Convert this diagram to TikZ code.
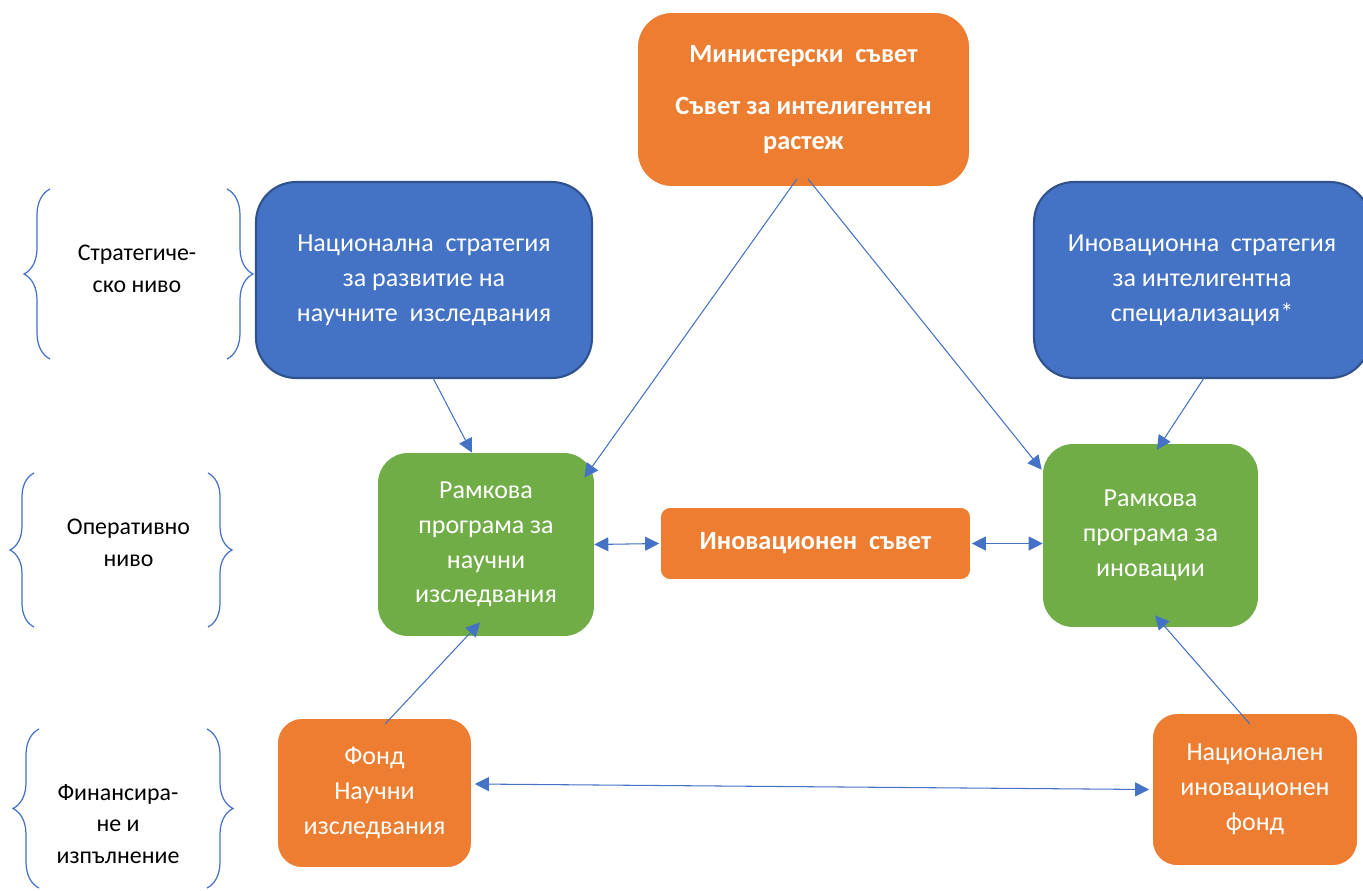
\documentclass[tikz,border=0pt]{standalone}
\usepackage{fontspec}
\setmainfont{Carlito}
\usetikzlibrary{arrows.meta,calc,decorations.pathreplacing}
\definecolor{boxorange}{HTML}{ED7D31}
\definecolor{boxblue}{HTML}{4472C4}
\definecolor{boxblueline}{HTML}{2F528F}
\definecolor{boxgreen}{HTML}{70AD47}
\definecolor{linkblue}{HTML}{4472C4}
\tikzset{
  box/.style={rectangle, text=white, align=center, inner sep=0pt, font=\fontsize{14.8}{19.8}\selectfont},
  boldbox/.style={font=\bfseries\fontsize{15}{19.8}\selectfont},
  orangebox/.style={box, fill=boxorange, draw=white, line width=1pt},
  bluebox/.style={box, fill=boxblue, draw=boxblueline, line width=1.2pt, rounded corners=0.8cm, minimum width=6.72cm, minimum height=3.92cm},
  greenbox/.style={box, fill=boxgreen, rounded corners=0.6cm, minimum height=3.66cm},
  link/.style={draw=linkblue, line width=0.6pt, -{Triangle[length=2.8mm,width=2.8mm]}},
  twolink/.style={link, {Triangle[length=2.8mm,width=2.8mm]}-{Triangle[length=2.8mm,width=2.8mm]}},
  levelbrace/.style={draw=linkblue, line width=0.7pt, decorate, decoration={brace, amplitude=0.52cm}},
  leveltext/.style={align=center, font=\fontsize{13.6}{18.1}\selectfont}
}
\begin{document}
\begin{tikzpicture}[x=0.02cm,y=-0.02cm]
\useasboundingbox (0,0) rectangle (1363,890);
\clip (0,0) rectangle (1363,890);
\node[orangebox, boldbox, rounded corners=0.7cm, minimum width=6.66cm, minimum height=3.5cm] (council) at (803.5,99.5) {Министерски\ \ съвет\\[10pt]Съвет за интелигентен\\растеж};
\node[bluebox] (stratR) at (424,280) {Национална\ \ стратегия\\за развитие на\\научните\ \ изследвания};
\node[bluebox] (stratI) at (1202,280) {Иновационна\ \ стратегия\\за интелигентна\\специализация*};
\node[greenbox, minimum width=4.32cm] (fwR) at (486,544.5) {Рамкова\\програма за\\научни\\изследвания};
\node[greenbox, minimum width=4.3cm] (fwI) at (1150.5,535.5) {Рамкова\\програма за\\иновации};
\node[orangebox, boldbox, rounded corners=0.2cm, minimum width=6.22cm, minimum height=1.46cm] (innov) at (815.5,543.5) {Иновационен\ \ съвет};
\node[orangebox, rounded corners=0.5cm, minimum width=3.9cm, minimum height=3cm] (fundR) at (374.5,793) {Фонд\\Научни\\изследвания};
\node[orangebox, rounded corners=0.5cm, minimum width=4.12cm, minimum height=3.06cm] (fundI) at (1255,789.5) {Национален\\иновационен\\фонд};
\draw[levelbrace] (50,359) -- (50,189);
\draw[levelbrace] (227,189) -- (227,359);
\node[leveltext] (lvlS) at (137,269) {Стратегиче-\\ско ниво};
\draw[levelbrace, decoration={amplitude=0.48cm}] (34,627) -- (34,473);
\draw[levelbrace, decoration={amplitude=0.48cm}] (208,473) -- (208,627);
\node[leveltext] (lvlO) at (128.5,543) {Оперативно\\ниво};
\draw[levelbrace, decoration={amplitude=0.52cm}] (39,888) -- (39,729);
\draw[levelbrace, decoration={amplitude=0.52cm}] (207,729) -- (207,888);
\node[leveltext] (lvlF) at (118,824) {Финансира-\\не и\\изпълнение};
\draw[link] ($(council.south)+(-6.5,-9)$) -- ($(fwR.north east)+(-10,25)$);
\draw[link] ($(council.south)+(4.5,-9)$) -- ($(fwI.north west)+(-1,26)$);
\draw[link] ($(stratR.south)+(9,-1)$) -- ($(fwR.north)+(-14,0)$);
\draw[link] ($(stratI.south)+(2,-1)$) -- ($(fwI.north)+(6.5,6)$);
\draw[link] ($(fundR.north)+(10.5,7)$) -- ($(fwR.south)+(-6,-14)$);
\draw[link] ($(fundI.north)+(-5,12)$) -- ($(fwI.south)+(4.5,-12)$);
\draw[twolink] (fwR.east) -- (innov.west);
\draw[twolink] (innov.east) -- (innov.east -| fwI.west);
\draw[twolink] ($(fundR.east)+(2,-9)$) -- ($(fundI.west)+(-2,0)$);
\end{tikzpicture}
\end{document}
